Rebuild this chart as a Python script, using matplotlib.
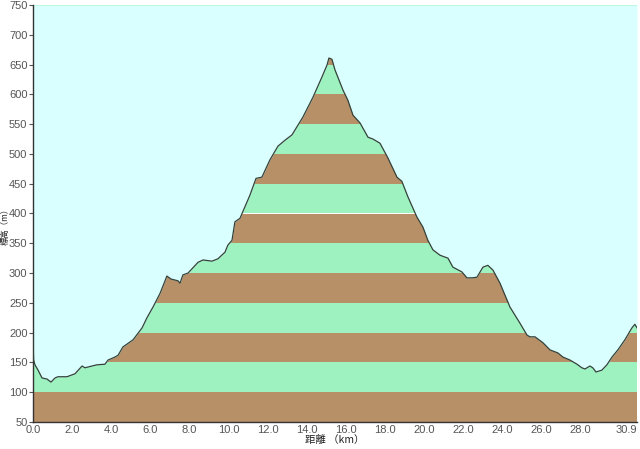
import matplotlib
matplotlib.use('Agg')
import matplotlib.pyplot as plt

# profile (km, m)
distance_km = [0.00, 0.03, 0.10, 0.26, 0.46, 0.72, 0.92, 1.13, 1.28, 1.74, 2.15, 2.51,
               2.66, 3.02, 3.27, 3.68, 3.84, 4.19, 4.35, 4.60, 5.12, 5.58, 5.83, 6.14,
               6.50, 6.85, 7.06, 7.42, 7.52, 7.67, 7.93, 8.44, 8.70, 9.16, 9.46, 9.82,
               9.97, 10.18, 10.33, 10.59, 11.10, 11.41, 11.71, 12.12, 12.53, 12.89, 13.25,
               13.81, 14.32, 14.78, 15.04, 15.14, 15.29, 15.45, 15.86, 16.11, 16.37, 16.73,
               17.14, 17.39, 17.75, 18.16, 18.62, 18.87, 19.18, 19.64, 19.95, 20.20, 20.46,
               20.82, 21.23, 21.48, 21.94, 22.20, 22.46, 22.71, 23.02, 23.27, 23.53, 23.89,
               24.40, 24.91, 25.27, 25.42, 25.68, 26.09, 26.45, 26.85, 27.11, 27.47, 27.83,
               28.08, 28.24, 28.49, 28.64, 28.80, 29.10, 29.36, 29.62, 29.92, 30.28, 30.64,
               30.79, 30.90]
elevation_m = [191, 154, 146, 137, 124, 122, 117, 124, 126, 126, 131, 144,
               141, 144, 146, 147, 154, 159, 162, 176, 188, 208, 225, 243,
               266, 295, 290, 287, 283, 297, 300, 318, 322, 320, 324, 335,
               347, 355, 386, 392, 431, 459, 461, 490, 513, 523, 532,
               562, 595, 629, 649, 661, 659, 641, 607, 590, 565, 552,
               528, 525, 518, 493, 461, 454, 428, 394, 377, 355, 339,
               330, 325, 310, 302, 292, 292, 293, 310, 313, 305, 283,
               243, 216, 196, 193, 193, 183, 171, 166, 159, 154, 147,
               141, 139, 144, 141, 134, 137, 146, 159, 171, 188, 208,
               214, 208]

x_ticks = [0, 2, 4, 6, 8, 10, 12, 14, 16, 18, 20, 22, 24, 26, 28, 30.9]
y_ticks = list(range(50, 751, 50))

bg_color = '#d9ffff'
green = '#9ef2c0'
brown = '#b89068'
line_color = '#34423a'

plt.rcParams['font.family'] = ['Liberation Sans', 'Noto Sans CJK JP', 'DejaVu Sans']

fig = plt.figure(figsize=(6.4, 4.49), dpi=100)
ax = fig.add_axes([33 / 640, 27 / 449, 604 / 640, 417 / 449])

# 50 m bands, brown from 50 m
for i, lo in enumerate(y_ticks[:-1]):
    ax.axhspan(lo, lo + 50, color=brown if i % 2 == 0 else green, lw=0, zorder=1)

ax.fill_between(distance_km, elevation_m, 750, color=bg_color, lw=0, zorder=2)
ax.plot(distance_km, elevation_m, color=line_color, lw=0.9, zorder=3)

ax.set_xlim(0, 30.9)
ax.set_ylim(50, 750)
ax.set_xticks(x_ticks)
ax.set_xticklabels(['{:.1f}'.format(t) for t in x_ticks])
ax.get_xticklabels()[-1].set_horizontalalignment('right')
ax.set_yticks(y_ticks)

ax.tick_params(axis='both', labelsize=8, colors='#555555', length=3, width=0.8, pad=1)
ax.tick_params(axis='x', length=0, pad=2)
for side in ['top', 'right']:
    ax.spines[side].set_visible(False)
for side in ['left', 'bottom']:
    ax.spines[side].set_color('#333333')
    ax.spines[side].set_linewidth(1.0)

fig.text(5 / 640, 1 - 224 / 449, '標高（m）', rotation=90, va='center', ha='center',
         fontsize=6, family=['Noto Sans CJK JP', 'DejaVu Sans'], color='#222222')
fig.text(0.523, 0.02, '距離 （km）', va='center', ha='center',
         fontsize=7.5, family=['Noto Sans CJK JP', 'DejaVu Sans'], color='#222222')

fig.savefig('out.png', dpi=100)
